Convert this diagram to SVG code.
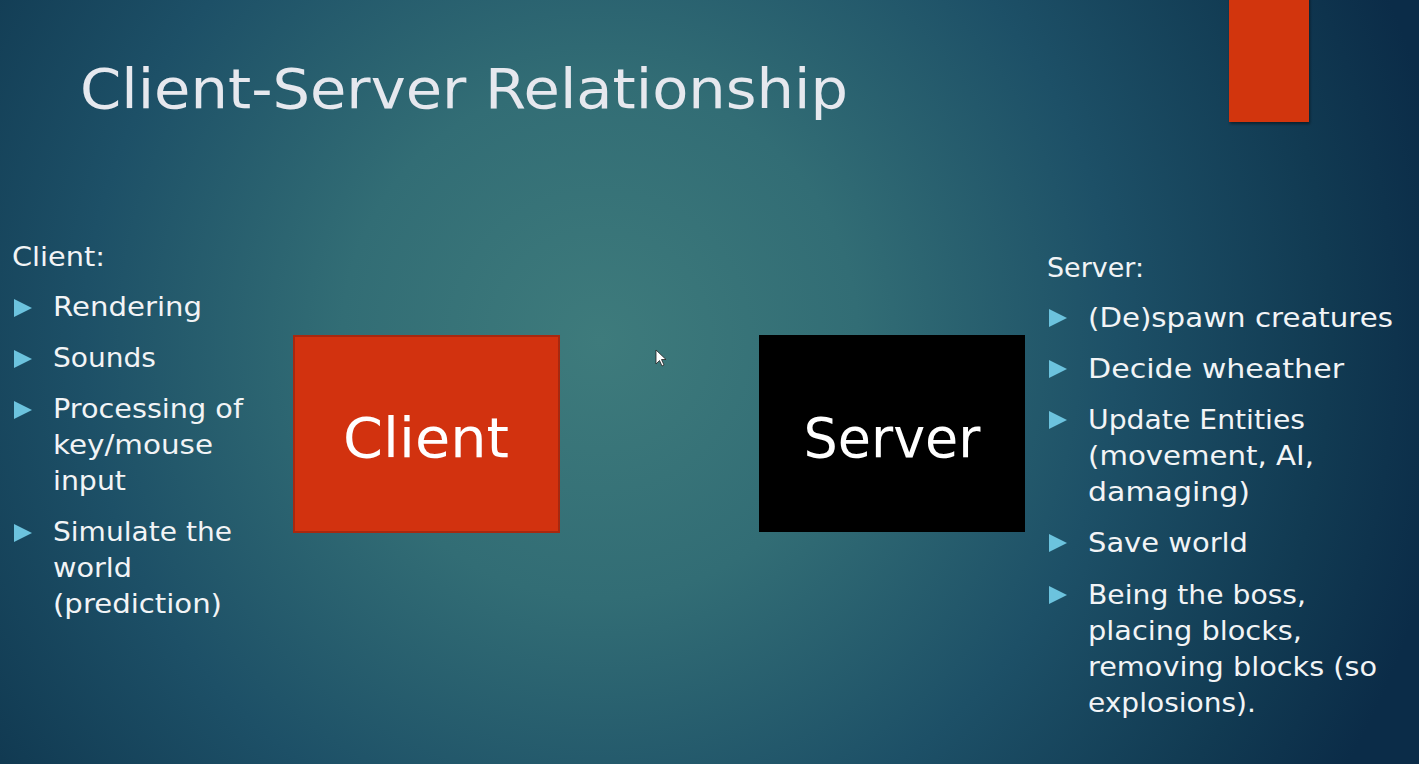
<svg xmlns="http://www.w3.org/2000/svg" width="1419" height="764" viewBox="0 0 1419 764">
  <defs>
    <radialGradient id="bg" cx="600" cy="340" r="860" gradientUnits="userSpaceOnUse">
      <stop offset="0" stop-color="#3e7b7c"/>
      <stop offset="0.3" stop-color="#326d75"/>
      <stop offset="0.6" stop-color="#1d5067"/>
      <stop offset="0.85" stop-color="#113a52"/>
      <stop offset="1" stop-color="#0b2c48"/>
    </radialGradient>
    <filter id="shadow" x="-20%" y="-20%" width="140%" height="140%">
      <feDropShadow dx="1" dy="2" stdDeviation="1.5" flood-color="#000" flood-opacity="0.45"/>
    </filter>
    <polygon id="bullet" points="0,0 18,9 0,18"/>
  </defs>
  <style>
    .title { font-family: "DejaVu Sans", "Liberation Sans", sans-serif; font-size: 56px; fill: #e6e8ee; }
    .body { font-family: "DejaVu Sans", "Liberation Sans", sans-serif; font-size: 27px; fill: #f2f4f6; }
    .boxlabel { font-family: "DejaVu Sans", "Liberation Sans", sans-serif; font-size: 56px; fill: #ffffff; text-anchor: middle; }
    .bullet { fill: #6cc3de; }
  </style>

  <!-- slide background -->
  <rect x="0" y="0" width="1419" height="764" fill="url(#bg)"/>

  <!-- accent tab, top right -->
  <rect x="1229" y="-4" width="80" height="126" fill="#d2350f" filter="url(#shadow)"/>

  <!-- title -->
  <text class="title" x="80" y="108" textLength="768" lengthAdjust="spacingAndGlyphs">Client-Server Relationship</text>

  <!-- client responsibilities -->
  <g id="client-list">
    <text class="body" x="12" y="266" textLength="93" lengthAdjust="spacingAndGlyphs">Client:</text>
    <use href="#bullet" class="bullet" x="14" y="299"/>
    <text class="body" x="53" y="316" textLength="149" lengthAdjust="spacingAndGlyphs">Rendering</text>
    <use href="#bullet" class="bullet" x="14" y="350"/>
    <text class="body" x="53" y="367" textLength="103" lengthAdjust="spacingAndGlyphs">Sounds</text>
    <use href="#bullet" class="bullet" x="14" y="401"/>
    <text class="body" x="53" y="418" textLength="190" lengthAdjust="spacingAndGlyphs">Processing of</text>
    <text class="body" x="53" y="454" textLength="160" lengthAdjust="spacingAndGlyphs">key/mouse</text>
    <text class="body" x="53" y="490" textLength="73" lengthAdjust="spacingAndGlyphs">input</text>
    <use href="#bullet" class="bullet" x="14" y="524"/>
    <text class="body" x="53" y="541" textLength="179" lengthAdjust="spacingAndGlyphs">Simulate the</text>
    <text class="body" x="53" y="577" textLength="79" lengthAdjust="spacingAndGlyphs">world</text>
    <text class="body" x="53" y="613" textLength="169" lengthAdjust="spacingAndGlyphs">(prediction)</text>
  </g>

  <!-- client node -->
  <g id="client">
    <rect x="294" y="336" width="265" height="196" fill="#d2320f" stroke="#a8280f" stroke-width="2"/>
    <text class="boxlabel" x="426" y="457" textLength="166" lengthAdjust="spacingAndGlyphs">Client</text>
  </g>

  <!-- server node -->
  <g id="server">
    <rect x="759" y="335" width="266" height="197" fill="#000000"/>
    <text class="boxlabel" x="892" y="457" textLength="177" lengthAdjust="spacingAndGlyphs">Server</text>
  </g>

  <!-- connectors: none drawn between the two nodes -->
  <g id="connectors"></g>

  <!-- server responsibilities -->
  <g id="server-list">
    <text class="body" x="1047" y="277" textLength="97" lengthAdjust="spacingAndGlyphs">Server:</text>
    <use href="#bullet" class="bullet" x="1049" y="309"/>
    <text class="body" x="1088" y="327" textLength="305" lengthAdjust="spacingAndGlyphs">(De)spawn creatures</text>
    <use href="#bullet" class="bullet" x="1049" y="360"/>
    <text class="body" x="1088" y="378" textLength="256" lengthAdjust="spacingAndGlyphs">Decide wheather</text>
    <use href="#bullet" class="bullet" x="1049" y="411"/>
    <text class="body" x="1088" y="429" textLength="217" lengthAdjust="spacingAndGlyphs">Update Entities</text>
    <text class="body" x="1088" y="465" textLength="226" lengthAdjust="spacingAndGlyphs">(movement, AI,</text>
    <text class="body" x="1088" y="501" textLength="162" lengthAdjust="spacingAndGlyphs">damaging)</text>
    <use href="#bullet" class="bullet" x="1049" y="534"/>
    <text class="body" x="1088" y="552" textLength="160" lengthAdjust="spacingAndGlyphs">Save world</text>
    <use href="#bullet" class="bullet" x="1049" y="586"/>
    <text class="body" x="1088" y="604" textLength="218" lengthAdjust="spacingAndGlyphs">Being the boss,</text>
    <text class="body" x="1088" y="640" textLength="214" lengthAdjust="spacingAndGlyphs">placing blocks,</text>
    <text class="body" x="1088" y="676" textLength="289" lengthAdjust="spacingAndGlyphs">removing blocks (so</text>
    <text class="body" x="1088" y="712" textLength="168" lengthAdjust="spacingAndGlyphs">explosions).</text>
  </g>

  <!-- pointer -->
  <path d="M656,350 L656,364 L659.5,360.5 L662,366 L664,365 L661.5,359.5 L666,359.5 Z" fill="#ffffff" stroke="#222" stroke-width="0.8"/>
</svg>
